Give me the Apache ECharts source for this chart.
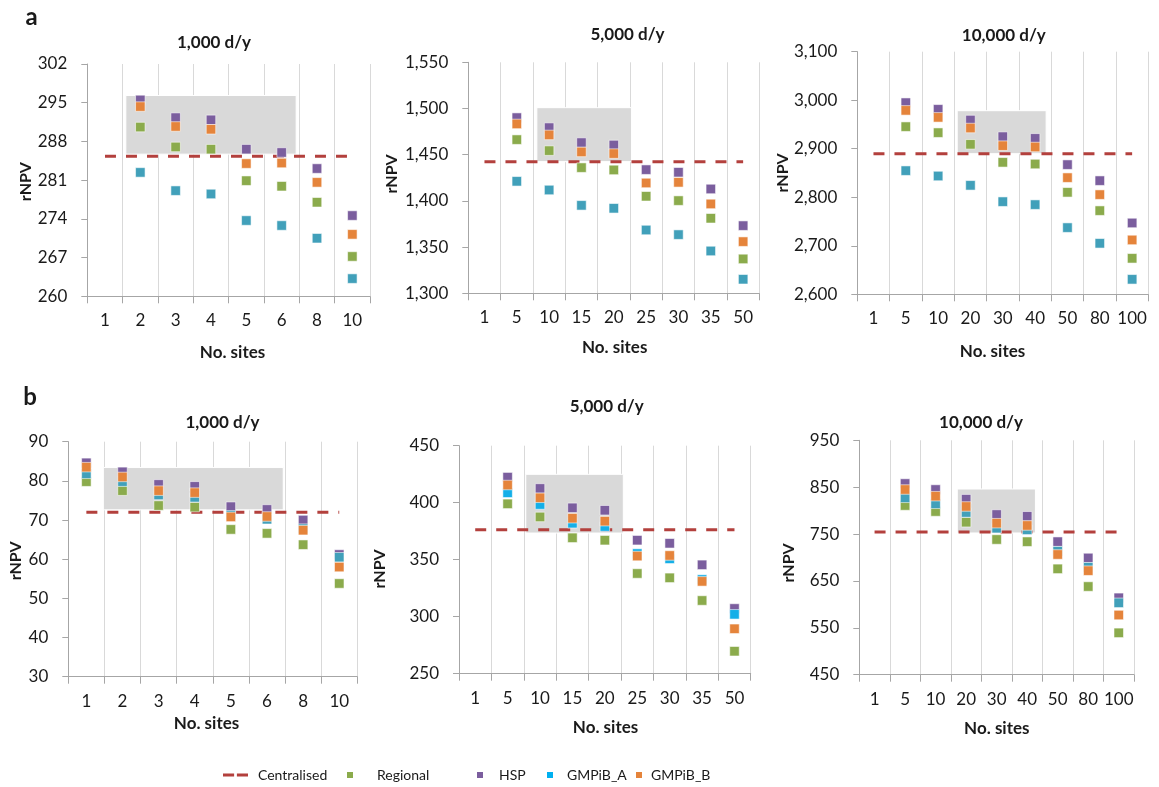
<!DOCTYPE html>
<html>
<head>
<meta charset="utf-8">
<script src="https://cdn.jsdelivr.net/npm/echarts@6/dist/echarts.min.js"></script>
<style>
  html, body { margin: 0; padding: 0; background: #ffffff; }
  #chart { width: 1159px; height: 787px; }
</style>
</head>
<body>
<div id="chart"></div>
<script>
// ---------- Data: rNPV by number of sites ----------
// (a) panels
const a1Sites    = ['1', '2', '3', '4', '5', '6', '8', '10'];
const a1Regional = [null, 290.6, 287.0, 286.6, 280.9, 279.9, 277.0, 267.2];
const a1HSP      = [null, 295.5, 292.3, 291.9, 286.6, 286.0, 283.1, 274.6];
const a1GMPiBA   = [null, 282.4, 279.1, 278.5, 273.7, 272.8, 270.5, 263.2];
const a1GMPiBB   = [null, 294.3, 290.7, 290.2, 284.0, 284.1, 280.6, 271.2];
const a1Central  = 285.3;
const a1Band     = [1.09, 5.91, 285.7, 296.3];   // [x from, x to (site slots), rNPV low, rNPV high]
const a1Ticks    = [260, 267, 274, 281, 288, 295, 302];

const a2Sites    = ['1', '5', '10', '15', '20', '25', '30', '35', '50'];
const a2Regional = [null, 1466.3, 1454.4, 1436.0, 1433.5, 1405.0, 1400.3, 1381.2, 1337.2];
const a2HSP      = [null, 1490.1, 1479.3, 1463.1, 1460.5, 1433.8, 1431.0, 1412.9, 1373.2];
const a2GMPiBA   = [null, 1421.2, 1411.8, 1395.2, 1392.0, 1368.5, 1363.5, 1345.8, 1315.2];
const a2GMPiBB   = [null, 1483.3, 1471.4, 1453.0, 1451.2, 1419.4, 1420.1, 1396.7, 1355.9];
const a2Central  = 1442.5;
const a2Band     = [2.12, 5.05, 1442.5, 1500.9];
const a2Ticks    = [1300, 1350, 1400, 1450, 1500, 1550];

const a3Sites    = ['1', '5', '10', '20', '30', '40', '50', '80', '100'];
const a3Regional = [null, 2945.5, 2933.1, 2909.1, 2872.0, 2868.5, 2810.2, 2772.4, 2674.2];
const a3HSP      = [null, 2994.9, 2981.2, 2959.2, 2924.9, 2921.4, 2867.2, 2834.2, 2747.0];
const a3GMPiBA   = [null, 2854.8, 2843.8, 2824.6, 2790.9, 2784.8, 2737.4, 2705.1, 2630.9];
const a3GMPiBB   = [null, 2979.1, 2964.7, 2942.7, 2906.3, 2903.6, 2840.4, 2805.4, 2712.0];
const a3Central  = 2889.8;
const a3Band     = [3.09, 5.84, 2889.8, 2978.4];
const a3Ticks    = [2600, 2700, 2800, 2900, 3000, 3100];

// (b) panels
const b1Sites    = ['1', '2', '3', '4', '5', '6', '8', '10'];
const b1Regional = [79.8, 77.5, 73.7, 73.3, 67.6, 66.6, 63.7, 53.8];
const b1HSP      = [84.6, 82.3, 79.1, 78.6, 73.4, 72.7, 70.0, 61.2];
const b1GMPiBA   = [81.8, 79.8, 76.4, 75.8, 71.2, 70.2, 67.8, 60.5];
const b1GMPiBB   = [83.5, 81.0, 77.5, 77.0, 70.8, 70.9, 67.4, 58.0];
const b1Central  = 72.0;
const b1Band     = [0.97, 5.95, 72.6, 83.4];
const b1Ticks    = [30, 40, 50, 60, 70, 80, 90];

const b2Sites    = ['1', '5', '10', '15', '20', '25', '30', '35', '50'];
const b2Regional = [null, 399.0, 387.5, 369.2, 367.1, 337.9, 334.1, 314.2, 269.7];
const b2HSP      = [null, 422.4, 412.5, 395.5, 393.4, 367.1, 364.4, 345.5, 307.2];
const b2GMPiBA   = [null, 408.7, 398.4, 382.0, 379.1, 355.4, 350.8, 332.6, 302.1];
const b2GMPiBB   = [null, 415.5, 404.3, 386.4, 383.8, 353.2, 353.7, 331.0, 289.4];
const b2Central  = 376.3;
const b2Band     = [2.06, 5.07, 373.4, 424.9];
const b2Ticks    = [250, 300, 350, 400, 450];

const b3Sites    = ['1', '5', '10', '20', '30', '40', '50', '80', '100'];
const b3Regional = [null, 810.9, 798.1, 775.3, 738.4, 733.7, 675.8, 638.1, 539.3];
const b3HSP      = [null, 857.8, 845.0, 824.4, 791.7, 787.9, 733.7, 699.0, 614.0];
const b3GMPiBA   = [null, 827.3, 814.5, 796.0, 762.5, 759.0, 713.5, 679.3, 603.3];
const b3GMPiBB   = [null, 845.0, 830.8, 808.8, 773.2, 768.3, 706.4, 671.9, 577.3];
const b3Central  = 754.4;
const b3Band     = [3.21, 5.77, 752.3, 846.1];
const b3Ticks    = [450, 550, 650, 750, 850, 950];

const panelTitles = ['1,000 d/y', '5,000 d/y', '10,000 d/y', '1,000 d/y', '5,000 d/y', '10,000 d/y'];

// ---------- Styling ----------
const FONT = 'Lato, "Open Sans", "Liberation Sans", sans-serif';
const TEXT = '#1a1a1a';
const AXIS = '#a6a6a6';
const GRIDLINE = '#d9d9d9';
const C_CENTRAL = '#b3403d';
const C_REGIONAL = '#8bab4c';
const C_HSP = '#7b5e9e';
const C_TEAL = '#41a0ba';
const C_CYAN = '#14afe8';
const C_ORANGE = '#e5843b';

const panels = [
  { sites: a1Sites, reg: a1Regional, hsp: a1HSP, ga: a1GMPiBA, gb: a1GMPiBB, central: a1Central, band: a1Band, ticks: a1Ticks,
    grid: { left: 87.3, top: 64, width: 282.7, height: 232.3 }, title: [214, 43], xName: [232.5, 352.7], yName: [25.7, 181.7], gaColor: C_TEAL },
  { sites: a2Sites, reg: a2Regional, hsp: a2HSP, ga: a2GMPiBA, gb: a2GMPiBB, central: a2Central, band: a2Band, ticks: a2Ticks,
    grid: { left: 468.3, top: 62.3, width: 291, height: 231 }, title: [627.5, 35], xName: [614.7, 347.7], yName: [392, 174], gaColor: C_TEAL },
  { sites: a3Sites, reg: a3Regional, hsp: a3HSP, ga: a3GMPiBA, gb: a3GMPiBB, central: a3Central, band: a3Band, ticks: a3Ticks,
    grid: { left: 857.3, top: 51.7, width: 291, height: 242.6 }, title: [1003.8, 36], xName: [992.5, 351.7], yName: [782.7, 173], gaColor: C_TEAL },
  { sites: b1Sites, reg: b1Regional, hsp: b1HSP, ga: b1GMPiBA, gb: b1GMPiBB, central: b1Central, band: b1Band, ticks: b1Ticks,
    grid: { left: 68.3, top: 441.7, width: 289, height: 235 }, title: [222.5, 422.7], xName: [206.5, 723.3], yName: [16, 560.8], gaColor: C_TEAL },
  { sites: b2Sites, reg: b2Regional, hsp: b2HSP, ga: b2GMPiBA, gb: b2GMPiBB, central: b2Central, band: b2Band, ticks: b2Ticks,
    grid: { left: 459, top: 445.7, width: 291.7, height: 228 }, title: [606.7, 406.7], xName: [605.5, 727.3], yName: [380, 569], gaColor: C_CYAN },
  { sites: b3Sites, reg: b3Regional, hsp: b3HSP, ga: b3GMPiBA, gb: b3GMPiBB, central: b3Central, band: b3Band, ticks: b3Ticks,
    grid: { left: 859.3, top: 440.3, width: 274.7, height: 234.4 }, title: [981, 422.7], xName: [996.8, 728.3], yName: [789.3, 563], gaColor: C_TEAL }
];

const fmt = v => Number(v).toLocaleString('en-US');
const toPoints = vals => vals.map((v, j) => (v == null ? null : [j, v])).filter(Boolean);

const grid = [], xAxis = [], yAxis = [], series = [], graphic = [];

panels.forEach((p, i) => {
  grid.push(Object.assign({ containLabel: false }, p.grid));

  // site categories (labels centred in slots, gridlines on slot edges)
  xAxis.push({
    type: 'category', gridIndex: i, data: p.sites, boundaryGap: true,
    axisLine: { show: true, lineStyle: { color: AXIS, width: 1 } },
    axisTick: { show: true, length: 7, interval: 0, lineStyle: { color: AXIS } },
    splitLine: { show: true, interval: 0, lineStyle: { color: GRIDLINE, width: 1 } },
    axisLabel: { interval: 0, margin: 16, fontSize: 17, color: TEXT, fontFamily: FONT }
  });
  // continuous slot scale used for the shaded range
  xAxis.push({ type: 'value', gridIndex: i, min: 0, max: p.sites.length, show: false });

  yAxis.push({
    type: 'value', gridIndex: i, min: p.ticks[0], max: p.ticks[p.ticks.length - 1],
    splitLine: { show: false },
    axisLine: { show: true, lineStyle: { color: AXIS, width: 1 } },
    axisTick: { show: true, length: 6, customValues: p.ticks, lineStyle: { color: AXIS } },
    axisLabel: { customValues: p.ticks, formatter: fmt, margin: 20, fontSize: 17, color: TEXT, fontFamily: FONT }
  });

  const xi = 2 * i;

  series.push({
    type: 'line', xAxisIndex: xi + 1, yAxisIndex: i, data: [], silent: true, z: 1,
    markArea: {
      silent: true,
      itemStyle: { color: '#d9d9d9', borderColor: '#ffffff', borderWidth: 1 },
      data: [[{ coord: [p.band[0], p.band[2]] }, { coord: [p.band[1], p.band[3]] }]]
    }
  });

  series.push({
    name: 'Centralised', type: 'line', xAxisIndex: xi, yAxisIndex: i, z: 3,
    data: p.sites.map(() => p.central),
    symbol: 'none', showSymbol: false, silent: true,
    lineStyle: { color: C_CENTRAL, width: 3, type: [11, 10] },
    itemStyle: { color: C_CENTRAL }
  });

  const scatter = (name, vals, color) => ({
    name, type: 'scatter', xAxisIndex: xi, yAxisIndex: i, z: 4,
    symbol: 'rect', symbolSize: 9.5,
    itemStyle: { color, borderColor: 'rgba(255,255,255,0.55)', borderWidth: 1, opacity: 1 },
    data: toPoints(vals)
  });
  series.push(scatter('Regional', p.reg, C_REGIONAL));
  series.push(scatter('HSP', p.hsp, C_HSP));
  series.push(scatter('GMPiB_A', p.ga, p.gaColor));
  series.push(scatter('GMPiB_B', p.gb, C_ORANGE));

  graphic.push({
    type: 'text', x: p.title[0], y: p.title[1], silent: true,
    style: { text: panelTitles[i], fill: TEXT, font: 'bold 17px ' + FONT, align: 'center', verticalAlign: 'middle' }
  });
  graphic.push({
    type: 'text', x: p.xName[0], y: p.xName[1], silent: true,
    style: { text: 'No. sites', fill: TEXT, font: 'bold 17px ' + FONT, align: 'center', verticalAlign: 'middle' }
  });
  graphic.push({
    type: 'text', x: p.yName[0], y: p.yName[1], rotation: Math.PI / 2, silent: true,
    style: { text: 'rNPV', fill: TEXT, font: 'bold 16px ' + FONT, align: 'center', verticalAlign: 'middle' }
  });
});

graphic.push({ type: 'text', x: 31.7, y: 17, silent: true,
  style: { text: 'a', fill: TEXT, font: 'bold 24px ' + FONT, align: 'center', verticalAlign: 'middle' } });
graphic.push({ type: 'text', x: 30, y: 397, silent: true,
  style: { text: 'b', fill: TEXT, font: 'bold 24px ' + FONT, align: 'center', verticalAlign: 'middle' } });

// one legend entry per item, spaced along the bottom
const LEGEND_TOP = 763;
const legendText = pad => ({ fontSize: 14, lineHeight: 14, color: TEXT, fontFamily: FONT, padding: [0, 0, 0, pad] });
const dashIcon = 'path://M0,0H12V3H0Z M15,0H27V3H15Z';
const legend = [
  { data: [{ name: 'Centralised', icon: dashIcon, itemStyle: { color: C_CENTRAL, borderWidth: 0 } }],
    left: 218, top: LEGEND_TOP, itemWidth: 25, itemHeight: 3, textStyle: legendText(5), selectedMode: false },
  { data: [{ name: 'Regional', icon: 'rect', itemStyle: { color: C_REGIONAL, borderWidth: 0 } }], left: 342, top: LEGEND_TOP, itemWidth: 6, itemHeight: 6,
    textStyle: legendText(19), selectedMode: false },
  { data: [{ name: 'HSP', icon: 'rect', itemStyle: { color: C_HSP, borderWidth: 0 } }], left: 472, top: LEGEND_TOP, itemWidth: 6, itemHeight: 6,
    textStyle: legendText(11), selectedMode: false },
  { data: [{ name: 'GMPiB_A', icon: 'rect', itemStyle: { color: '#00b0f0', borderWidth: 0 } }], left: 542, top: LEGEND_TOP, itemWidth: 6, itemHeight: 6,
    textStyle: legendText(9), selectedMode: false },
  { data: [{ name: 'GMPiB_B', icon: 'rect', itemStyle: { color: C_ORANGE, borderWidth: 0 } }], left: 631, top: LEGEND_TOP, itemWidth: 6, itemHeight: 6,
    textStyle: legendText(4), selectedMode: false }
];

const chart = echarts.init(document.getElementById('chart'), null, { renderer: 'canvas' });
chart.setOption({
  backgroundColor: '#ffffff',
  animation: false,
  textStyle: { fontFamily: FONT },
  grid, xAxis, yAxis, series, legend, graphic
});
</script>
</body>
</html>
